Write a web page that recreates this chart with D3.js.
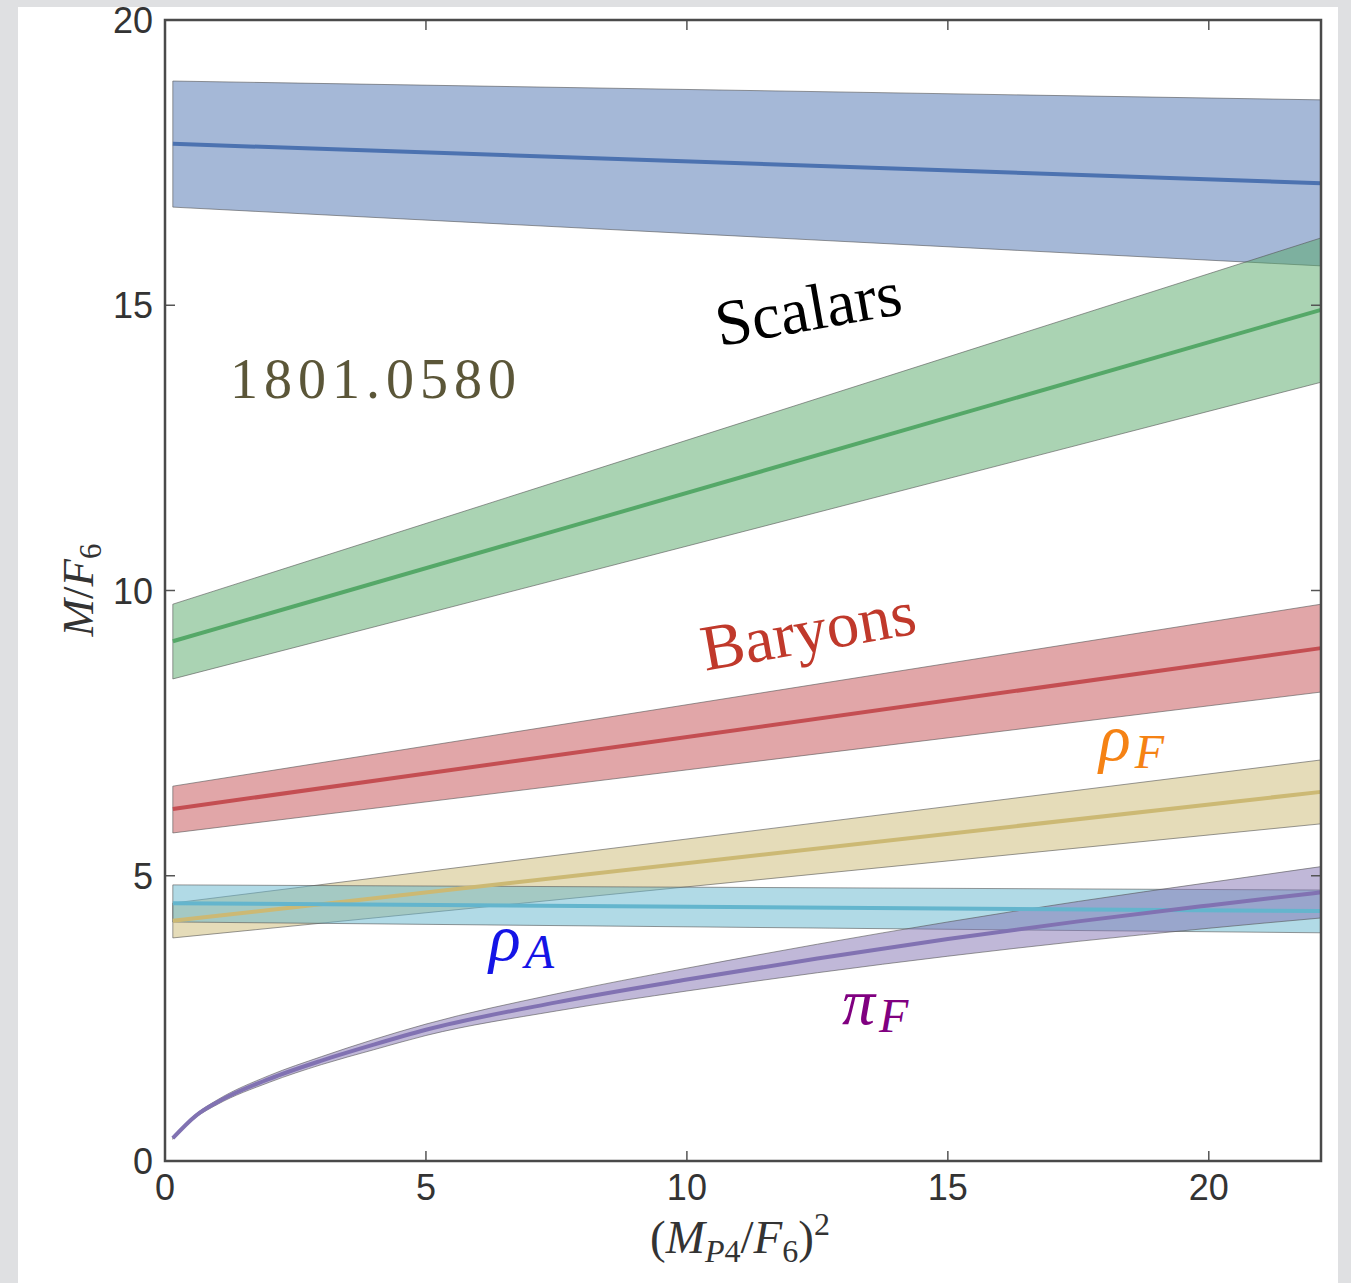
<!DOCTYPE html>
<html>
<head>
<meta charset="utf-8">
<script src="https://cdn.jsdelivr.net/npm/d3@7"></script>
<style>
  body { margin: 0; background: #dfe0e2; }
  svg { display: block; }
</style>
</head>
<body>
<div id="chart"></div>
<script>
// x values shared by the straight bands (start / end of the fitted range)
const xLin = [0.15, 22.15];

// Scalars (blue)
const scalarsMid = [17.83, 17.14];
const scalarsLo = [16.72, 15.69];
const scalarsHi = [18.93, 18.60];

// green band
const greenMid = [9.11, 14.92];
const greenLo = [8.45, 13.65];
const greenHi = [9.76, 16.18];

// Baryons (red)
const baryonMid = [6.17, 8.99];
const baryonLo = [5.75, 8.22];
const baryonHi = [6.57, 9.76];

// rho_F (gold)
const rhoFMid = [4.21, 6.47];
const rhoFLo = [3.91, 5.91];
const rhoFHi = [4.52, 7.03];

// rho_A (cyan)
const rhoAMid = [4.52, 4.38];
const rhoALo = [4.19, 4.00];
const rhoAHi = [4.84, 4.75];

// pi_F (purple), curved so more points
const piX = [0.15, 0.6, 1, 2, 3, 4, 5, 7.5, 10, 12.5, 15, 17.5, 20, 22.15];
const piMid = [0.40, 0.80, 1.03, 1.44, 1.76, 2.04, 2.30, 2.78, 3.18, 3.55, 3.89, 4.20, 4.48, 4.71];
const piLo = [0.38, 0.77, 0.99, 1.38, 1.69, 1.95, 2.20, 2.63, 2.98, 3.30, 3.59, 3.85, 4.08, 4.26];
const piHi = [0.42, 0.83, 1.07, 1.50, 1.83, 2.13, 2.40, 2.93, 3.38, 3.80, 4.19, 4.55, 4.88, 5.16];

const xTicks = [0, 5, 10, 15, 20];
const yTicks = [0, 5, 10, 15, 20];

const W = 1351, H = 1283;
const pLeft = 165, pRight = 1321, pTop = 20, pBottom = 1161;

const svg = d3.select("#chart").append("svg")
  .attr("width", W).attr("height", H);

// white page
svg.append("rect").attr("x", 18).attr("y", 7)
  .attr("width", 1320).attr("height", H)
  .attr("fill", "white");

const x = d3.scaleLinear().domain([0, 22.15]).range([pLeft, pRight]);
const y = d3.scaleLinear().domain([0, 20]).range([pBottom, pTop]);

// build series list
function zipBand(xs, lo, hi, mid) {
  return xs.map((v, i) => ({ x: v, lo: lo[i], hi: hi[i], mid: mid[i] }));
}
const series = [
  { color: "#4c72b0", pts: zipBand(xLin, scalarsLo, scalarsHi, scalarsMid) },
  { color: "#55a868", pts: zipBand(xLin, greenLo, greenHi, greenMid) },
  { color: "#c44e52", pts: zipBand(xLin, baryonLo, baryonHi, baryonMid) },
  { color: "#ccb974", pts: zipBand(xLin, rhoFLo, rhoFHi, rhoFMid) },
  { color: "#64b5cd", pts: zipBand(xLin, rhoALo, rhoAHi, rhoAMid) },
  { color: "#8172b2", pts: zipBand(piX, piLo, piHi, piMid) }
];

const area = d3.area().curve(d3.curveMonotoneX)
  .x(d => x(d.x)).y0(d => y(d.lo)).y1(d => y(d.hi));
const line = d3.line().curve(d3.curveMonotoneX)
  .x(d => x(d.x)).y(d => y(d.mid));

const plot = svg.append("g");

plot.selectAll("path.band")
  .data(series)
  .enter()
  .append("path")
  .attr("class", "band")
  .attr("d", d => area(d.pts))
  .attr("fill", d => d.color)
  .attr("fill-opacity", 0.5)
  .attr("stroke", "#555")
  .attr("stroke-opacity", 0.6)
  .attr("stroke-width", 1);

plot.selectAll("path.mid")
  .data(series)
  .enter()
  .append("path")
  .attr("class", "mid")
  .attr("d", d => line(d.pts))
  .attr("fill", "none")
  .attr("stroke", d => d.color)
  .attr("stroke-width", 4);

// ticks, inward on all four sides
const tickLen = 10;
const tickColor = "#555";
const ax = svg.append("g");
xTicks.forEach(t => {
  ax.append("line").attr("x1", x(t)).attr("x2", x(t))
    .attr("y1", pBottom).attr("y2", pBottom - tickLen)
    .attr("stroke", tickColor).attr("stroke-width", 1.5);
  ax.append("line").attr("x1", x(t)).attr("x2", x(t))
    .attr("y1", pTop).attr("y2", pTop + tickLen)
    .attr("stroke", tickColor).attr("stroke-width", 1.5);
});
yTicks.forEach(t => {
  ax.append("line").attr("x1", pLeft).attr("x2", pLeft + tickLen)
    .attr("y1", y(t)).attr("y2", y(t))
    .attr("stroke", tickColor).attr("stroke-width", 1.5);
  ax.append("line").attr("x1", pRight).attr("x2", pRight - tickLen)
    .attr("y1", y(t)).attr("y2", y(t))
    .attr("stroke", tickColor).attr("stroke-width", 1.5);
});

// frame
svg.append("rect")
  .attr("x", pLeft).attr("y", pTop)
  .attr("width", pRight - pLeft).attr("height", pBottom - pTop)
  .attr("fill", "none").attr("stroke", "#4a4a4a").attr("stroke-width", 2.5);

// tick labels
const tickFont = "'Liberation Sans', Arial, sans-serif";
ax.selectAll("text.xt")
  .data(xTicks)
  .enter()
  .append("text")
  .attr("class", "xt")
  .attr("x", d => x(d))
  .attr("y", pBottom + 39)
  .attr("text-anchor", "middle")
  .attr("font-family", tickFont)
  .attr("font-size", 36)
  .attr("fill", "#333")
  .text(d => d);

ax.selectAll("text.yt")
  .data(yTicks)
  .enter()
  .append("text")
  .attr("class", "yt")
  .attr("x", pLeft - 12)
  .attr("y", d => y(d) + 13)
  .attr("text-anchor", "end")
  .attr("font-family", tickFont)
  .attr("font-size", 36)
  .attr("fill", "#333")
  .text(d => d);

// axis labels
const serif = "'Liberation Serif', 'DejaVu Serif', serif";
const xl = svg.append("text")
  .attr("x", 740).attr("y", 1253)
  .attr("text-anchor", "middle")
  .attr("font-family", serif)
  .attr("font-size", 47)
  .attr("fill", "#333");
xl.append("tspan").text("(");
xl.append("tspan").attr("font-style", "italic").text("M");
xl.append("tspan").attr("font-style", "italic").attr("font-size", 32).attr("dy", 9).text("P");
xl.append("tspan").attr("font-size", 32).text("4");
xl.append("tspan").attr("dy", -9).text("/");
xl.append("tspan").attr("font-style", "italic").text("F");
xl.append("tspan").attr("font-size", 32).attr("dy", 9).text("6");
xl.append("tspan").attr("dy", -9).text(")");
xl.append("tspan").attr("font-size", 32).attr("dy", -18).text("2");

const yl = svg.append("text")
  .attr("transform", "translate(93,590) rotate(-90)")
  .attr("text-anchor", "middle")
  .attr("font-family", serif)
  .attr("font-size", 45)
  .attr("fill", "#333");
yl.append("tspan").attr("font-style", "italic").text("M");
yl.append("tspan").text("/");
yl.append("tspan").attr("font-style", "italic").text("F");
yl.append("tspan").attr("font-size", 31).attr("dy", 8).text("6");

// annotations
function label(xp, yp, angle, txt, color, size) {
  svg.append("text")
    .attr("transform", `translate(${xp},${yp}) rotate(${angle})`)
    .attr("text-anchor", "middle")
    .attr("font-family", serif)
    .attr("font-size", size)
    .attr("fill", color)
    .text(txt);
}
label(812, 330, -10, "Scalars", "black", 65);
label(812, 652, -10, "Baryons", "#c0392b", 65);

svg.append("text")
  .attr("x", 376).attr("y", 398)
  .attr("text-anchor", "middle")
  .attr("font-family", serif)
  .attr("font-size", 56)
  .attr("letter-spacing", 6)
  .attr("fill", "#5b5638")
  .text("1801.0580");

function greekLabel(xp, yp, g, sub, color) {
  const t = svg.append("text")
    .attr("x", xp).attr("y", yp)
    .attr("font-family", serif)
    .attr("font-style", "italic")
    .attr("font-size", 66)
    .attr("fill", color);
  t.append("tspan").text(g);
  t.append("tspan").attr("font-size", 48).attr("dx", 4).attr("dy", 8).text(sub);
}
greekLabel(1099, 760, "\u03c1", "F", "#f58214");
greekLabel(489, 960, "\u03c1", "A", "#1414e6");
greekLabel(842, 1024, "\u03c0", "F", "#800080");

// gray border on top to crop like the screenshot
svg.append("rect").attr("x", 0).attr("y", 0).attr("width", W).attr("height", 7).attr("fill", "#dfe0e2");
svg.append("rect").attr("x", 0).attr("y", 0).attr("width", 18).attr("height", H).attr("fill", "#dfe0e2");
svg.append("rect").attr("x", 1338).attr("y", 0).attr("width", 13).attr("height", H).attr("fill", "#dfe0e2");
</script>
</body>
</html>
